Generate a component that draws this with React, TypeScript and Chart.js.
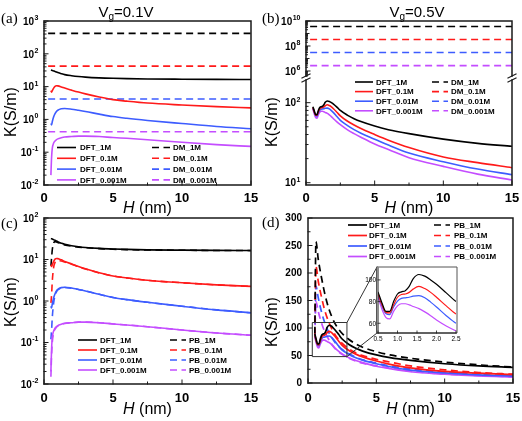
import React, { useEffect, useRef } from 'react';
import { Chart, registerables } from 'chart.js';

Chart.register(...registerables);

const PW = 522;
const PH = 421;
const SANS = '"Liberation Sans", Arial, Helvetica, sans-serif';
const SERIF = '"Liberation Serif", "Times New Roman", serif';

const COLORS = ['#000000', '#ff1a1a', '#3d5cff', '#c44dff'];
const CONCS = ['1M', '0.1M', '0.01M', '0.001M'];

// ---------- Vg = 0.1 V ----------
const hLow = [0.5, 0.55, 0.6, 0.7, 0.8, 0.9, 1, 1.25, 1.5, 2, 2.5, 3, 4, 5, 6, 7.5, 10, 12.5, 15];
const dftLow1M = [32, 31.5, 31, 30, 29, 27.8, 26.8, 24.8, 23.2, 21.5, 20.3, 19.5, 18.5, 17.9, 17.5, 17.1, 16.8, 16.6, 16.5];
const dftLow01M = [7.5, 6.8, 7.5, 9, 10.2, 10.6, 10.5, 9.8, 9, 7.8, 6.8, 6, 4.8, 4.0, 3.6, 3.15, 2.75, 2.45, 2.25];
const dftLow001M = [0.75, 0.68, 0.85, 1.2, 1.5, 1.75, 1.9, 2.1, 2.15, 2.05, 1.9, 1.75, 1.45, 1.22, 1.08, 0.93, 0.75, 0.61, 0.52];
const dftLow0001M = [0.02, 0.07, 0.13, 0.19, 0.22, 0.24, 0.255, 0.275, 0.29, 0.3, 0.31, 0.31, 0.3, 0.28, 0.265, 0.24, 0.2, 0.17, 0.15];
const pbLow1M = [7, 11, 17, 25, 27, 26.5, 25.5, 23.8, 22.4, 20.9, 19.9, 19.2, 18.3, 17.7, 17.3, 17, 16.7, 16.5, 16.4];
const pbLow01M = [0.9, 1.4, 3, 6.5, 8.5, 9.2, 9.4, 9.2, 8.7, 7.7, 6.7, 5.9, 4.75, 4.0, 3.6, 3.15, 2.75, 2.45, 2.25];
const pbLow001M = [0.12, 0.2, 0.4, 0.9, 1.35, 1.65, 1.85, 2.05, 2.12, 2.03, 1.9, 1.75, 1.45, 1.22, 1.08, 0.93, 0.75, 0.61, 0.52];
const pbLow0001M = [0.015, 0.05, 0.1, 0.17, 0.21, 0.235, 0.25, 0.272, 0.288, 0.3, 0.31, 0.31, 0.3, 0.28, 0.265, 0.24, 0.2, 0.17, 0.15];
const hDM = [0.3, 15];
const dmLow1M = [420, 420];
const dmLow01M = [42, 42];
const dmLow001M = [4.2, 4.2];
const dmLow0001M = [0.42, 0.42];

// ---------- Vg = 0.5 V ----------
const hHigh = [0.5, 0.6, 0.7, 0.8, 0.9, 1.0, 1.1, 1.2, 1.3, 1.4, 1.55, 1.7, 1.85, 2.0, 2.25, 2.5, 3, 3.5, 4, 5, 6, 7.5, 10, 12.5, 15];
const dftHigh1M = [89, 79, 71, 71, 80, 87, 89, 90, 94, 101, 105, 103.5, 100, 96, 88, 80, 70, 63, 58, 51, 46, 41, 35, 31, 28.5];
const dftHigh01M = [87, 77, 70, 69.5, 77, 84, 86.5, 87, 88.5, 91.5, 94, 92, 88.5, 84, 76, 68.5, 59, 52.5, 47.5, 40, 34, 27.5, 21, 17.8, 15.4];
const dftHigh001M = [86, 76, 69, 68, 75, 80.5, 83, 83.5, 84, 85, 85.5, 83.5, 79.5, 75, 67, 60, 52, 46, 41.5, 35, 29.5, 23.5, 18.3, 14.8, 12.6];
const dftHigh0001M = [84, 73, 65.5, 64, 71, 76, 78, 78, 77, 75.5, 73.5, 70.5, 67, 63, 57.5, 53, 46, 41, 37, 30.5, 26, 20.5, 16, 12.8, 10.8];
const hPB = [0.5, 0.58, 0.75, 1, 1.25, 1.5, 1.75, 2, 2.5, 3, 3.5, 4, 5, 6, 7.5, 10, 12.5, 15];
const pbHigh1M = [90, 257, 225, 190, 160, 137, 120, 107, 90, 79, 71, 65, 57, 51, 45, 38, 33, 29];
const pbHigh01M = [88, 212, 185, 155, 130, 112, 98, 87, 72, 62, 55, 50, 43, 38, 31, 24, 19, 16];
const pbHigh001M = [86, 176, 155, 128, 108, 93, 82, 73, 61, 53, 47, 42, 36, 31, 25.5, 19.5, 15.5, 13];
const pbHigh0001M = [84, 148, 130, 108, 92, 80, 70, 62, 52, 45, 40, 36, 31, 27, 21.5, 16.5, 13.5, 11.2];
const dmHigh1M = [3.6e9, 3.6e9];
const dmHigh01M = [3.3e8, 3.3e8];
const dmHigh001M = [3.0e7, 3.0e7];
const dmHigh0001M = [2.7e6, 2.7e6];

// ---------- ticks ----------
const xTicksMain = [0, 5, 10, 15];
const xMinorMain = [2.5, 7.5, 12.5];
const aYTicks = [1e-2, 1e-1, 1e0, 1e1, 1e2, 1e3];
const cYTicks = [1e-2, 1e-1, 1e0, 1e1, 1e2];
const bUpperTicks = [1e6, 1e8, 1e10];
const bUpperMid = [1e7, 1e9];
const bLowerTicks = [1e1, 1e2];
const dYTicks = [0, 50, 100, 150, 200, 250, 300];
const dYMinor = [25, 75, 125, 175, 225, 275];
const insetXTicks = [0.5, 1.0, 1.5, 2.0, 2.5];
const insetYTicks = [60, 80, 100];
const zoomBoxX = [0.35, 2.85];
const zoomBoxY = [48, 110];

const INSET = { l: 378, t: 268, r: 456, b: 333 };

type Area = { l: number; t: number; r: number; b: number };

function pts(xs: number[], ys: number[]) {
  return xs.map((x, i) => ({ x, y: ys[i] }));
}

function line(xs: number[], ys: number[], color: string, dash: number[] = [], width = 1.6) {
  return {
    data: pts(xs, ys),
    borderColor: color,
    borderWidth: width,
    borderDash: dash,
    pointRadius: 0,
    pointHoverRadius: 0,
    fill: false,
    cubicInterpolationMode: 'monotone',
  };
}

function config(area: Area, xr: number[], yType: string, yr: number[], datasets: any[], draw: (c: any) => void, before?: (c: any) => void) {
  return {
    type: 'line',
    data: { datasets },
    options: {
      animation: false,
      responsive: false,
      devicePixelRatio: 1,
      events: [],
      layout: { padding: { left: area.l, top: area.t, right: PW - area.r, bottom: PH - area.b } },
      plugins: { legend: { display: false }, tooltip: { enabled: false } },
      scales: {
        x: { type: 'linear', min: xr[0], max: xr[1], display: false },
        y: { type: yType, min: yr[0], max: yr[1], display: false },
      },
    },
    plugins: [
      {
        id: 'decor',
        beforeDraw: (c: any) => { if (before) before(c); },
        afterDraw: (c: any) => draw(c),
      },
    ],
  };
}

// ---------- drawing helpers ----------
function stroke(ctx: CanvasRenderingContext2D, fn: () => void, color = '#1a1a1a', width = 1.5) {
  ctx.save();
  ctx.strokeStyle = color;
  ctx.lineWidth = width;
  ctx.lineCap = 'square';
  ctx.setLineDash([]);
  ctx.beginPath();
  fn();
  ctx.stroke();
  ctx.restore();
}

function frame(chart: any, sides: string, color = '#1a1a1a', width = 1.5) {
  const { ctx, chartArea: ca } = chart;
  stroke(ctx, () => {
    if (sides.includes('l')) { ctx.moveTo(ca.left, ca.top); ctx.lineTo(ca.left, ca.bottom); }
    if (sides.includes('r')) { ctx.moveTo(ca.right, ca.top); ctx.lineTo(ca.right, ca.bottom); }
    if (sides.includes('t')) { ctx.moveTo(ca.left, ca.top); ctx.lineTo(ca.right, ca.top); }
    if (sides.includes('b')) { ctx.moveTo(ca.left, ca.bottom); ctx.lineTo(ca.right, ca.bottom); }
  }, color, width);
}

function yTicks(chart: any, values: number[], len: number, width = 1) {
  const { ctx, chartArea: ca } = chart;
  const ys = chart.scales.y;
  stroke(ctx, () => {
    values.forEach((v) => {
      const p = ys.getPixelForValue(v);
      if (p < ca.top - 0.5 || p > ca.bottom + 0.5) return;
      ctx.moveTo(ca.left, p);
      ctx.lineTo(ca.left + len, p);
    });
  }, '#1a1a1a', width);
}

function xTicks(chart: any, values: number[], len: number, width = 1) {
  const { ctx, chartArea: ca } = chart;
  const xs = chart.scales.x;
  stroke(ctx, () => {
    values.forEach((v) => {
      const p = xs.getPixelForValue(v);
      ctx.moveTo(p, ca.bottom);
      ctx.lineTo(p, ca.bottom - len);
    });
  }, '#1a1a1a', width);
}

function logMinors(min: number, max: number) {
  const out: number[] = [];
  for (let e = Math.floor(Math.log10(min)); e <= Math.ceil(Math.log10(max)); e++) {
    for (let m = 2; m <= 9; m++) {
      const v = m * Math.pow(10, e);
      if (v >= min && v <= max) out.push(v);
    }
  }
  return out;
}

function logLabels(chart: any, values: number[], gap = 6) {
  const { ctx, chartArea: ca } = chart;
  const ys = chart.scales.y;
  ctx.save();
  ctx.fillStyle = '#000';
  ctx.textBaseline = 'middle';
  ctx.textAlign = 'left';
  values.forEach((v) => {
    const y = ys.getPixelForValue(v);
    const es = String(Math.round(Math.log10(v)));
    ctx.font = `bold 10px ${SANS}`;
    const wb = ctx.measureText('10').width;
    ctx.font = `bold 7px ${SANS}`;
    const we = ctx.measureText(es).width;
    const x0 = ca.left - gap - wb - we;
    ctx.font = `bold 10px ${SANS}`;
    ctx.fillText('10', x0, y + 1);
    ctx.font = `bold 7px ${SANS}`;
    ctx.fillText(es, x0 + wb + 0.5, y - 3);
  });
  ctx.restore();
}

function linLabelsY(chart: any, values: number[], gap: number, font: string, fmt: (v: number) => string) {
  const { ctx, chartArea: ca } = chart;
  const ys = chart.scales.y;
  ctx.save();
  ctx.fillStyle = '#000';
  ctx.font = font;
  ctx.textAlign = 'right';
  ctx.textBaseline = 'middle';
  values.forEach((v) => ctx.fillText(fmt(v), ca.left - gap, ys.getPixelForValue(v) + 0.5));
  ctx.restore();
}

function linLabelsX(chart: any, values: number[], off: number, font: string, fmt: (v: number) => string) {
  const { ctx, chartArea: ca } = chart;
  const xs = chart.scales.x;
  ctx.save();
  ctx.fillStyle = '#000';
  ctx.font = font;
  ctx.textAlign = 'center';
  ctx.textBaseline = 'alphabetic';
  values.forEach((v) => ctx.fillText(fmt(v), xs.getPixelForValue(v), ca.bottom + off));
  ctx.restore();
}

function vgTitle(ctx: CanvasRenderingContext2D, cx: number, base: number, rest: string) {
  const big = `15px ${SANS}`;
  const small = `10px ${SANS}`;
  ctx.save();
  ctx.fillStyle = '#000';
  ctx.textAlign = 'left';
  ctx.textBaseline = 'alphabetic';
  ctx.font = big;
  const wV = ctx.measureText('V').width;
  const tail = '=' + rest + 'V';
  const wR = ctx.measureText(tail).width;
  ctx.font = small;
  const wg = ctx.measureText('g').width;
  let x = cx - (wV + wg + wR) / 2;
  ctx.font = big;
  ctx.fillText('V', x, base);
  x += wV;
  ctx.font = small;
  ctx.fillText('g', x, base + 3);
  x += wg;
  ctx.font = big;
  ctx.fillText(tail, x, base);
  ctx.restore();
}

function hTitle(ctx: CanvasRenderingContext2D, cx: number, base: number) {
  ctx.save();
  ctx.fillStyle = '#000';
  ctx.textAlign = 'left';
  ctx.textBaseline = 'alphabetic';
  ctx.font = `italic 16px ${SANS}`;
  const wH = ctx.measureText('H').width;
  ctx.font = `16px ${SANS}`;
  const wr = ctx.measureText(' (nm)').width;
  const x = cx - (wH + wr) / 2;
  ctx.font = `italic 16px ${SANS}`;
  ctx.fillText('H', x, base);
  ctx.font = `16px ${SANS}`;
  ctx.fillText(' (nm)', x + wH, base);
  ctx.restore();
}

function kTitle(ctx: CanvasRenderingContext2D, x: number, cy: number) {
  ctx.save();
  ctx.translate(x, cy);
  ctx.rotate(-Math.PI / 2);
  ctx.fillStyle = '#000';
  ctx.font = `16px ${SANS}`;
  ctx.textAlign = 'center';
  ctx.textBaseline = 'middle';
  ctx.fillText('K(S/m)', 0, 0);
  ctx.restore();
}

function letter(ctx: CanvasRenderingContext2D, s: string, x: number, base: number) {
  ctx.save();
  ctx.fillStyle = '#000';
  ctx.font = `15px ${SERIF}`;
  ctx.textAlign = 'left';
  ctx.textBaseline = 'alphabetic';
  ctx.fillText(s, x, base);
  ctx.restore();
}

type LegItem = { label: string; color: string; dash: number[] };

function legendCol(ctx: CanvasRenderingContext2D, items: LegItem[], sx: number, ex: number, tx: number, y0: number, dy: number, width = 1.6) {
  items.forEach((it, i) => {
    const y = y0 + i * dy;
    ctx.save();
    ctx.strokeStyle = it.color;
    ctx.lineWidth = width;
    ctx.setLineDash(it.dash);
    ctx.beginPath();
    ctx.moveTo(sx, y);
    ctx.lineTo(ex, y);
    ctx.stroke();
    ctx.restore();
    ctx.save();
    ctx.fillStyle = '#000';
    ctx.font = `bold 8px ${SANS}`;
    ctx.textAlign = 'left';
    ctx.textBaseline = 'middle';
    ctx.fillText(it.label, tx, y + 0.5);
    ctx.restore();
  });
}

const SOLID: number[] = [];
const DASH = [7, 4.5];

function legItems(prefix: string, dash: number[]): LegItem[] {
  return CONCS.map((c, i) => ({ label: `${prefix}_${c}`, color: COLORS[i], dash }));
}

// ---------- panels ----------
function panelA() {
  const ds = [
    line(hLow, dftLow1M, COLORS[0]),
    line(hLow, dftLow01M, COLORS[1]),
    line(hLow, dftLow001M, COLORS[2]),
    line(hLow, dftLow0001M, COLORS[3]),
    line(hDM, dmLow1M, COLORS[0], DASH),
    line(hDM, dmLow01M, COLORS[1], DASH),
    line(hDM, dmLow001M, COLORS[2], DASH),
    line(hDM, dmLow0001M, COLORS[3], DASH),
  ];
  return config({ l: 44, t: 21, r: 251, b: 185 }, [0, 15], 'logarithmic', [1e-2, 1e3], ds, (c) => {
    const ctx = c.ctx;
    frame(c, 'lrtb');
    yTicks(c, aYTicks, 4);
    yTicks(c, logMinors(1e-2, 1e3), 2);
    xTicks(c, xTicksMain, 4);
    xTicks(c, xMinorMain, 2);
    logLabels(c, aYTicks);
    linLabelsX(c, xTicksMain, 17, `bold 13px ${SANS}`, (v) => String(v));
    hTitle(ctx, 147.5, 213);
    kTitle(ctx, 12, 112);
    vgTitle(ctx, 126, 17, '0.1');
    letter(ctx, '(a)', 1, 23);
    legendCol(ctx, legItems('DFT', SOLID), 57, 76, 80, 147.5, 10.8);
    legendCol(ctx, legItems('DM', DASH), 152, 170, 173, 147.5, 10.8);
  });
}

function panelBUpper() {
  const ds = [
    line(hDM, dmHigh1M, COLORS[0], DASH),
    line(hDM, dmHigh01M, COLORS[1], DASH),
    line(hDM, dmHigh001M, COLORS[2], DASH),
    line(hDM, dmHigh0001M, COLORS[3], DASH),
  ];
  return config({ l: 306, t: 21, r: 512, b: 76 }, [0, 15], 'logarithmic', [3.98e5, 1e10], ds, (c) => {
    const ctx = c.ctx;
    frame(c, 'lrt');
    yTicks(c, bUpperTicks, 4);
    yTicks(c, bUpperMid, 3);
    yTicks(c, logMinors(3.98e5, 1e10), 1.5);
    logLabels(c, bUpperTicks);
    vgTitle(ctx, 417, 17, '0.5');
    letter(ctx, '(b)', 262, 23);
  });
}

function panelBLower() {
  const ds = [
    line(hHigh, dftHigh1M, COLORS[0]),
    line(hHigh, dftHigh01M, COLORS[1]),
    line(hHigh, dftHigh001M, COLORS[2]),
    line(hHigh, dftHigh0001M, COLORS[3]),
  ];
  return config({ l: 306, t: 80, r: 512, b: 185 }, [0, 15], 'logarithmic', [9.36, 192], ds, (c) => {
    const ctx = c.ctx;
    const ca = c.chartArea;
    frame(c, 'lrb');
    yTicks(c, bLowerTicks, 4);
    yTicks(c, logMinors(9.36, 192), 2);
    xTicks(c, xTicksMain, 4);
    xTicks(c, xMinorMain, 2);
    logLabels(c, bLowerTicks);
    linLabelsX(c, xTicksMain, 17, `bold 13px ${SANS}`, (v) => String(v));
    hTitle(ctx, 409, 213);
    kTitle(ctx, 273, 122);
    stroke(ctx, () => {
      [ca.left, ca.right].forEach((x) => {
        [ca.top - 4, ca.top].forEach((y) => {
          ctx.moveTo(x - 4, y + 2);
          ctx.lineTo(x + 4, y - 2);
        });
      });
    }, '#1a1a1a', 1.2);
    legendCol(ctx, legItems('DFT', SOLID), 355, 373, 376, 82, 9.6);
    legendCol(ctx, legItems('DM', DASH), 432, 448, 451, 82, 9.6);
  });
}

function panelC() {
  const ds = [
    line(hLow, dftLow1M, COLORS[0]),
    line(hLow, dftLow01M, COLORS[1]),
    line(hLow, dftLow001M, COLORS[2]),
    line(hLow, dftLow0001M, COLORS[3]),
    line(hLow, pbLow1M, COLORS[0], DASH),
    line(hLow, pbLow01M, COLORS[1], DASH),
    line(hLow, pbLow001M, COLORS[2], DASH),
    line(hLow, pbLow0001M, COLORS[3], DASH),
  ];
  return config({ l: 44, t: 218, r: 251, b: 384 }, [0, 15], 'logarithmic', [1e-2, 1e2], ds, (c) => {
    const ctx = c.ctx;
    frame(c, 'lrtb');
    yTicks(c, cYTicks, 4);
    yTicks(c, logMinors(1e-2, 1e2), 2);
    xTicks(c, xTicksMain, 4);
    xTicks(c, xMinorMain, 2);
    logLabels(c, cYTicks);
    linLabelsX(c, xTicksMain, 18, `bold 13px ${SANS}`, (v) => String(v));
    hTitle(ctx, 147.5, 414);
    kTitle(ctx, 12, 302);
    letter(ctx, '(c)', 1, 228);
    legendCol(ctx, legItems('DFT', SOLID), 78, 97, 100, 340, 10);
    legendCol(ctx, legItems('PB', DASH), 170, 186, 189, 340, 10);
  });
}

function panelD() {
  const ds = [
    line(hHigh, dftHigh1M, COLORS[0], SOLID, 1.7),
    line(hHigh, dftHigh01M, COLORS[1], SOLID, 1.7),
    line(hHigh, dftHigh001M, COLORS[2], SOLID, 1.7),
    line(hHigh, dftHigh0001M, COLORS[3], SOLID, 1.7),
    line(hPB, pbHigh1M, COLORS[0], DASH, 1.7),
    line(hPB, pbHigh01M, COLORS[1], DASH, 1.7),
    line(hPB, pbHigh001M, COLORS[2], DASH, 1.7),
    line(hPB, pbHigh0001M, COLORS[3], DASH, 1.7),
  ];
  return config({ l: 308, t: 218, r: 513, b: 383 }, [0, 15], 'linear', [0, 300], ds, (c) => {
    const ctx = c.ctx;
    const xs = c.scales.x;
    const ys = c.scales.y;
    frame(c, 'lrtb');
    yTicks(c, dYTicks, 4);
    yTicks(c, dYMinor, 2);
    xTicks(c, xTicksMain, 4);
    xTicks(c, xMinorMain, 2);
    linLabelsY(c, dYTicks, 6, `bold 10px ${SANS}`, (v) => String(v));
    linLabelsX(c, xTicksMain, 19, `bold 13px ${SANS}`, (v) => String(v));
    hTitle(ctx, 410.5, 414);
    kTitle(ctx, 273, 322);
    letter(ctx, '(d)', 262, 227);
    legendCol(ctx, legItems('DFT', SOLID), 348, 367, 369, 225, 10.5, 1.7);
    legendCol(ctx, legItems('PB', DASH), 434, 450, 454, 225, 10.5, 1.7);
    const x0 = xs.getPixelForValue(zoomBoxX[0]);
    const x1 = xs.getPixelForValue(zoomBoxX[1]);
    const y0 = ys.getPixelForValue(zoomBoxY[1]);
    const y1 = ys.getPixelForValue(zoomBoxY[0]);
    stroke(ctx, () => {
      ctx.rect(x0, y0, x1 - x0, y1 - y0);
      ctx.moveTo(x1, y0);
      ctx.lineTo(INSET.l - 1, INSET.t - 1);
      ctx.moveTo(x1, y1);
      ctx.lineTo(INSET.l - 1, INSET.b);
    }, '#333333', 1);
  });
}

function panelInset() {
  const ds = [
    line(hHigh, dftHigh1M, COLORS[0], SOLID, 1.2),
    line(hHigh, dftHigh01M, COLORS[1], SOLID, 1.2),
    line(hHigh, dftHigh001M, COLORS[2], SOLID, 1.2),
    line(hHigh, dftHigh0001M, COLORS[3], SOLID, 1.2),
  ];
  return config(INSET, [0.5, 2.5], 'linear', [51, 111], ds, (c) => {
    const ctx = c.ctx;
    const ca = c.chartArea;
    stroke(ctx, () => {
      ctx.rect(ca.left - 1, ca.top - 1, ca.right - ca.left + 2, ca.bottom - ca.top + 1);
    }, '#555555', 1);
    frame(c, 'lb', '#1a1a1a', 1);
    yTicks(c, insetYTicks, 2, 0.8);
    xTicks(c, insetXTicks, 2, 0.8);
    linLabelsY(c, insetYTicks, 2, `6.5px ${SANS}`, (v) => String(v));
    linLabelsX(c, insetXTicks, 8, `6.5px ${SANS}`, (v) => v.toFixed(1));
  }, (c) => {
    const ctx = c.ctx;
    const ca = c.chartArea;
    ctx.save();
    ctx.fillStyle = '#ffffff';
    ctx.fillRect(ca.left - 1, ca.top - 1, ca.right - ca.left + 2, ca.bottom - ca.top + 1);
    ctx.restore();
  });
}

function ChartLayer({ build }: { build: () => any }) {
  const ref = useRef<HTMLCanvasElement>(null);
  useEffect(() => {
    const el = ref.current;
    if (!el) return;
    const chart = new Chart(el, build() as any);
    return () => chart.destroy();
  }, []);
  return (
    <canvas
      ref={ref}
      width={PW}
      height={PH}
      style={{ position: 'absolute', left: 0, top: 0, width: PW, height: PH }}
    />
  );
}

export default function App() {
  return (
    <div style={{ position: 'fixed', left: 0, top: 0, width: PW, height: PH, background: '#ffffff', overflow: 'hidden' }}>
      <ChartLayer build={panelA} />
      <ChartLayer build={panelBUpper} />
      <ChartLayer build={panelBLower} />
      <ChartLayer build={panelC} />
      <ChartLayer build={panelD} />
      <ChartLayer build={panelInset} />
    </div>
  );
}
